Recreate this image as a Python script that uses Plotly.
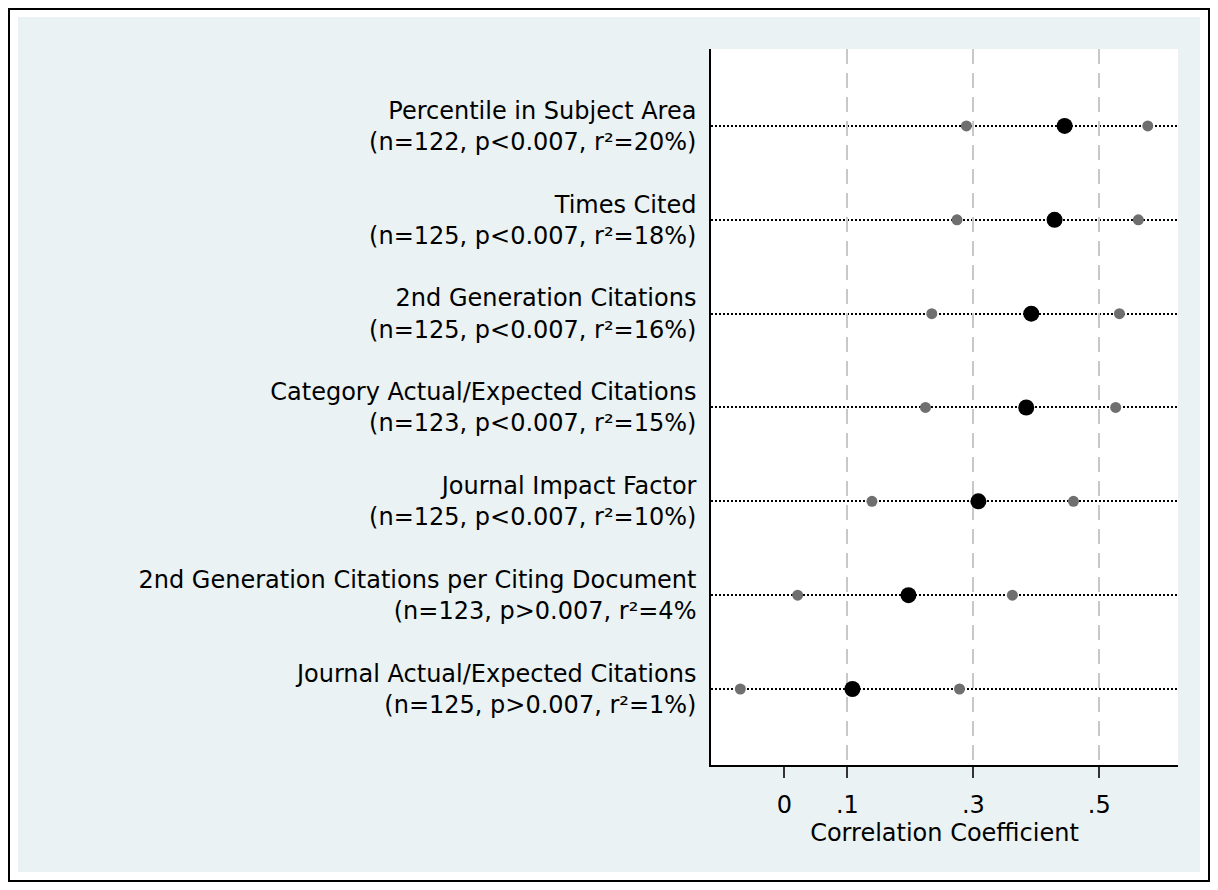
import plotly.graph_objects as go

# ---- data (top row first) ----
measures = [
    "Percentile in Subject Area",
    "Times Cited",
    "2nd Generation Citations",
    "Category Actual/Expected Citations",
    "Journal Impact Factor",
    "2nd Generation Citations per Citing Document",
    "Journal Actual/Expected Citations",
]
stats = [
    "(n=122, p&lt;0.007, r²=20%)",
    "(n=125, p&lt;0.007, r²=18%)",
    "(n=125, p&lt;0.007, r²=16%)",
    "(n=123, p&lt;0.007, r²=15%)",
    "(n=125, p&lt;0.007, r²=10%)",
    "(n=123, p&gt;0.007, r²=4%",
    "(n=125, p&gt;0.007, r²=1%)",
]
row_pos = [1, 2, 3, 4, 5, 6, 7]
estimate = [0.445, 0.429, 0.392, 0.384, 0.308, 0.197, 0.108]
ci_low = [0.289, 0.274, 0.234, 0.224, 0.139, 0.021, -0.070]
ci_high = [0.577, 0.562, 0.532, 0.526, 0.459, 0.362, 0.278]
tick_vals = [0, 0.1, 0.3, 0.5]
tick_text = ["0", ".1", ".3", ".5"]
grid_vals = [0.1, 0.3, 0.5]
x_title = "Correlation Coefficient"

row_labels = [m + "<br>" + s for m, s in zip(measures, stats)]

FONT = "DejaVu Sans"
FS = 24
GRAY = "#6f6f6f"

fig = go.Figure()
fig.add_trace(go.Scatter(x=ci_low, y=row_pos, mode="markers",
                         marker=dict(color=GRAY, size=11), showlegend=False,
                         hoverinfo="skip"))
fig.add_trace(go.Scatter(x=ci_high, y=row_pos, mode="markers",
                         marker=dict(color=GRAY, size=11), showlegend=False,
                         hoverinfo="skip"))
fig.add_trace(go.Scatter(x=estimate, y=row_pos, mode="markers",
                         marker=dict(color="black", size=16), showlegend=False))

# invisible trace on the overlay axis to carry the dashed grid
fig.add_trace(go.Scatter(x=[grid_vals[0]], y=[row_pos[0]], xaxis="x2",
                         mode="markers", marker=dict(opacity=0),
                         showlegend=False, hoverinfo="skip"))

# the page has an 8px body margin: fit the figure inside the window
OFF = 8
W, H = 1218 - 2 * OFF, 890 - 2 * OFF
L, T = 711 - OFF, 49 - OFF
R = W - (1178 - OFF)
B = H - (765 - OFF)
pw, ph = W - L - R, H - T - B


def fx(p):
    """figure pixel -> paper coordinate"""
    return (p - L) / pw


def fy(p):
    return (H - B - p) / ph


shapes = [
    dict(type="rect", xref="paper", yref="paper", layer="below",
         x0=fx(18 - OFF), x1=fx(1200 - OFF), y0=fy(872 - OFF), y1=fy(17 - OFF),
         fillcolor="#EAF2F3", line=dict(width=0)),
    dict(type="rect", xref="paper", yref="paper", layer="below",
         x0=0, x1=1, y0=0, y1=1, fillcolor="white", line=dict(width=0)),
    dict(type="rect", xref="paper", yref="paper", layer="above",
         x0=fx(1), x1=fx(W - 1), y0=fy(H - 1), y1=fy(1),
         fillcolor="rgba(0,0,0,0)", line=dict(color="black", width=2)),
]

xrange = [-0.1166, 0.625]
fig.update_layout(
    width=W, height=H,
    margin=dict(l=L, r=R, t=T, b=B, pad=0),
    paper_bgcolor="white", plot_bgcolor="white",
    font=dict(family=FONT, size=FS, color="black"),
    shapes=shapes,
    xaxis=dict(range=xrange, tickvals=tick_vals, ticktext=tick_text,
               showgrid=False, zeroline=False, showline=True,
               linecolor="black", linewidth=1.5, ticks="outside", ticklen=11,
               tickwidth=1.5, tickcolor="#333333", ticklabelstandoff=6,
               tickfont=dict(family=FONT, size=FS, color="black"),
               title=dict(text=x_title, standoff=0,
                          font=dict(family=FONT, size=FS, color="black"))),
    xaxis2=dict(range=xrange, overlaying="x", side="bottom",
                tickvals=grid_vals, showticklabels=False, ticks="",
                showgrid=True, gridcolor="#c8c8c8", gridwidth=1.5,
                griddash="15px,9px", zeroline=False, showline=False),
    yaxis=dict(range=[7.81, 0.18], tickvals=row_pos, ticktext=row_labels,
               ticks="", ticklabelstandoff=8,
               tickfont=dict(family=FONT, size=FS, color="black"),
               showgrid=True, gridcolor="black", gridwidth=2,
               griddash="2px,2px", zeroline=False, showline=True,
               linecolor="black", linewidth=1.5),
)

fig.write_html("out.html")
